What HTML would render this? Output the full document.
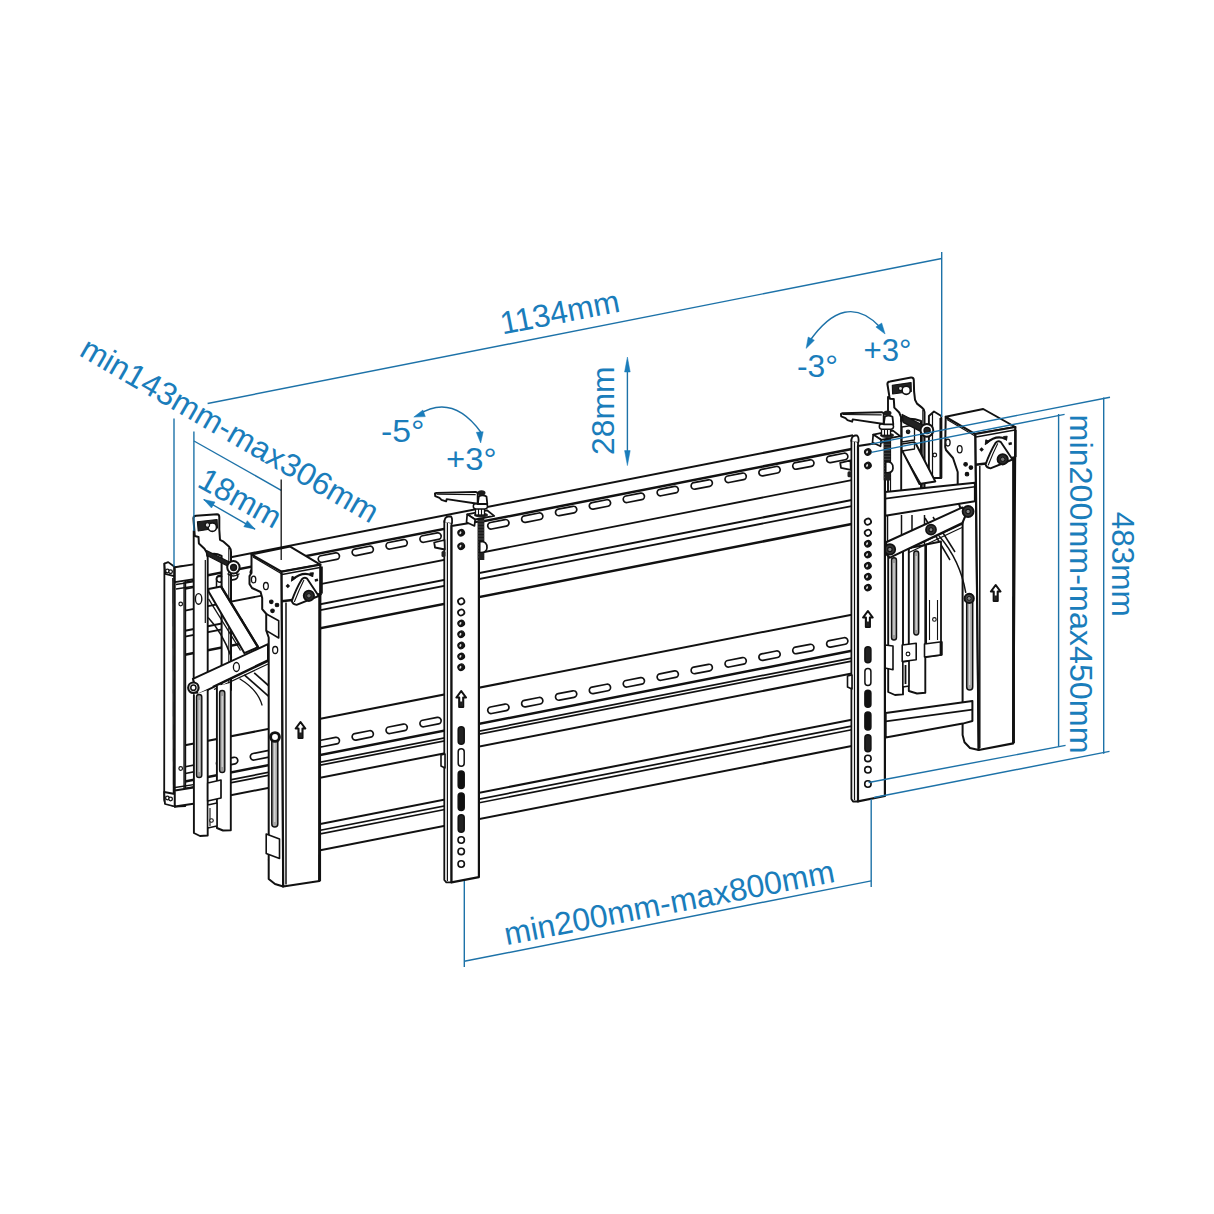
<!DOCTYPE html>
<html><head><meta charset="utf-8"><style>
html,body{margin:0;padding:0;background:#fff;}
svg{display:block;}
text{font-family:"Liberation Sans",sans-serif;}
</style></head><body>
<svg width="1214" height="1214" viewBox="0 0 1214 1214">
<rect width="1214" height="1214" fill="#fff"/>
<line x1="222" y1="559" x2="853" y2="435.3" stroke="#111" stroke-width="2"/>
<line x1="185" y1="579.7" x2="853" y2="448.8" stroke="#111" stroke-width="2.5"/>
<rect x="182.5" y="580.8" width="21.5" height="6.6" rx="3.3" fill="#fff" stroke="#111" stroke-width="1.7" transform="rotate(-11.1 193.2 584.1)"/>
<rect x="216.4" y="574.2" width="21.5" height="6.6" rx="3.3" fill="#fff" stroke="#111" stroke-width="1.7" transform="rotate(-11.1 227.1 577.5)"/>
<rect x="250.2" y="567.5" width="21.5" height="6.6" rx="3.3" fill="#fff" stroke="#111" stroke-width="1.7" transform="rotate(-11.1 261 570.8)"/>
<rect x="284.2" y="560.9" width="21.5" height="6.6" rx="3.3" fill="#fff" stroke="#111" stroke-width="1.7" transform="rotate(-11.1 294.9 564.2)"/>
<rect x="318.1" y="554.3" width="21.5" height="6.6" rx="3.3" fill="#fff" stroke="#111" stroke-width="1.7" transform="rotate(-11.1 328.8 557.6)"/>
<rect x="352" y="547.6" width="21.5" height="6.6" rx="3.3" fill="#fff" stroke="#111" stroke-width="1.7" transform="rotate(-11.1 362.7 550.9)"/>
<rect x="385.9" y="541" width="21.5" height="6.6" rx="3.3" fill="#fff" stroke="#111" stroke-width="1.7" transform="rotate(-11.1 396.6 544.3)"/>
<rect x="419.8" y="534.3" width="21.5" height="6.6" rx="3.3" fill="#fff" stroke="#111" stroke-width="1.7" transform="rotate(-11.1 430.5 537.6)"/>
<rect x="453.7" y="527.7" width="21.5" height="6.6" rx="3.3" fill="#fff" stroke="#111" stroke-width="1.7" transform="rotate(-11.1 464.4 531)"/>
<rect x="487.6" y="521" width="21.5" height="6.6" rx="3.3" fill="#fff" stroke="#111" stroke-width="1.7" transform="rotate(-11.1 498.3 524.3)"/>
<rect x="521.5" y="514.4" width="21.5" height="6.6" rx="3.3" fill="#fff" stroke="#111" stroke-width="1.7" transform="rotate(-11.1 532.2 517.7)"/>
<rect x="555.4" y="507.7" width="21.5" height="6.6" rx="3.3" fill="#fff" stroke="#111" stroke-width="1.7" transform="rotate(-11.1 566.1 511)"/>
<rect x="589.2" y="501.1" width="21.5" height="6.6" rx="3.3" fill="#fff" stroke="#111" stroke-width="1.7" transform="rotate(-11.1 600 504.4)"/>
<rect x="623.1" y="494.5" width="21.5" height="6.6" rx="3.3" fill="#fff" stroke="#111" stroke-width="1.7" transform="rotate(-11.1 633.9 497.8)"/>
<rect x="657" y="487.8" width="21.5" height="6.6" rx="3.3" fill="#fff" stroke="#111" stroke-width="1.7" transform="rotate(-11.1 667.8 491.1)"/>
<rect x="691" y="481.2" width="21.5" height="6.6" rx="3.3" fill="#fff" stroke="#111" stroke-width="1.7" transform="rotate(-11.1 701.7 484.5)"/>
<rect x="724.9" y="474.5" width="21.5" height="6.6" rx="3.3" fill="#fff" stroke="#111" stroke-width="1.7" transform="rotate(-11.1 735.6 477.8)"/>
<rect x="758.8" y="467.9" width="21.5" height="6.6" rx="3.3" fill="#fff" stroke="#111" stroke-width="1.7" transform="rotate(-11.1 769.5 471.2)"/>
<rect x="792.6" y="461.2" width="21.5" height="6.6" rx="3.3" fill="#fff" stroke="#111" stroke-width="1.7" transform="rotate(-11.1 803.4 464.5)"/>
<rect x="826.5" y="454.6" width="21.5" height="6.6" rx="3.3" fill="#fff" stroke="#111" stroke-width="1.7" transform="rotate(-11.1 837.3 457.9)"/>
<line x1="185" y1="610.7" x2="853" y2="479.8" stroke="#111" stroke-width="1.8"/>
<line x1="185" y1="630.7" x2="853" y2="499.8" stroke="#111" stroke-width="2"/>
<line x1="185" y1="636.7" x2="853" y2="505.8" stroke="#111" stroke-width="1.8"/>
<line x1="185" y1="654.7" x2="853" y2="523.8" stroke="#111" stroke-width="2.5"/>
<line x1="185" y1="745.3" x2="853" y2="614.4" stroke="#111" stroke-width="2"/>
<rect x="182.5" y="765.3" width="21.5" height="6.6" rx="3.3" fill="#fff" stroke="#111" stroke-width="1.7" transform="rotate(-11.1 193.2 768.6)"/>
<rect x="216.4" y="758.7" width="21.5" height="6.6" rx="3.3" fill="#fff" stroke="#111" stroke-width="1.7" transform="rotate(-11.1 227.1 762)"/>
<rect x="250.2" y="752" width="21.5" height="6.6" rx="3.3" fill="#fff" stroke="#111" stroke-width="1.7" transform="rotate(-11.1 261 755.3)"/>
<rect x="284.2" y="745.4" width="21.5" height="6.6" rx="3.3" fill="#fff" stroke="#111" stroke-width="1.7" transform="rotate(-11.1 294.9 748.7)"/>
<rect x="318.1" y="738.8" width="21.5" height="6.6" rx="3.3" fill="#fff" stroke="#111" stroke-width="1.7" transform="rotate(-11.1 328.8 742.1)"/>
<rect x="352" y="732.1" width="21.5" height="6.6" rx="3.3" fill="#fff" stroke="#111" stroke-width="1.7" transform="rotate(-11.1 362.7 735.4)"/>
<rect x="385.9" y="725.5" width="21.5" height="6.6" rx="3.3" fill="#fff" stroke="#111" stroke-width="1.7" transform="rotate(-11.1 396.6 728.8)"/>
<rect x="419.8" y="718.8" width="21.5" height="6.6" rx="3.3" fill="#fff" stroke="#111" stroke-width="1.7" transform="rotate(-11.1 430.5 722.1)"/>
<rect x="453.7" y="712.2" width="21.5" height="6.6" rx="3.3" fill="#fff" stroke="#111" stroke-width="1.7" transform="rotate(-11.1 464.4 715.5)"/>
<rect x="487.6" y="705.5" width="21.5" height="6.6" rx="3.3" fill="#fff" stroke="#111" stroke-width="1.7" transform="rotate(-11.1 498.3 708.8)"/>
<rect x="521.5" y="698.9" width="21.5" height="6.6" rx="3.3" fill="#fff" stroke="#111" stroke-width="1.7" transform="rotate(-11.1 532.2 702.2)"/>
<rect x="555.4" y="692.2" width="21.5" height="6.6" rx="3.3" fill="#fff" stroke="#111" stroke-width="1.7" transform="rotate(-11.1 566.1 695.5)"/>
<rect x="589.2" y="685.6" width="21.5" height="6.6" rx="3.3" fill="#fff" stroke="#111" stroke-width="1.7" transform="rotate(-11.1 600 688.9)"/>
<rect x="623.1" y="679" width="21.5" height="6.6" rx="3.3" fill="#fff" stroke="#111" stroke-width="1.7" transform="rotate(-11.1 633.9 682.3)"/>
<rect x="657" y="672.3" width="21.5" height="6.6" rx="3.3" fill="#fff" stroke="#111" stroke-width="1.7" transform="rotate(-11.1 667.8 675.6)"/>
<rect x="691" y="665.7" width="21.5" height="6.6" rx="3.3" fill="#fff" stroke="#111" stroke-width="1.7" transform="rotate(-11.1 701.7 669)"/>
<rect x="724.9" y="659" width="21.5" height="6.6" rx="3.3" fill="#fff" stroke="#111" stroke-width="1.7" transform="rotate(-11.1 735.6 662.3)"/>
<rect x="758.8" y="652.4" width="21.5" height="6.6" rx="3.3" fill="#fff" stroke="#111" stroke-width="1.7" transform="rotate(-11.1 769.5 655.7)"/>
<rect x="792.6" y="645.7" width="21.5" height="6.6" rx="3.3" fill="#fff" stroke="#111" stroke-width="1.7" transform="rotate(-11.1 803.4 649)"/>
<rect x="826.5" y="639.1" width="21.5" height="6.6" rx="3.3" fill="#fff" stroke="#111" stroke-width="1.7" transform="rotate(-11.1 837.3 642.4)"/>
<line x1="185" y1="781.5" x2="853" y2="650.6" stroke="#111" stroke-width="2.5"/>
<line x1="185" y1="788.7" x2="853" y2="657.8" stroke="#111" stroke-width="1.7"/>
<line x1="185" y1="791.7" x2="853" y2="660.8" stroke="#111" stroke-width="1.7"/>
<line x1="185" y1="804.2" x2="853" y2="673.3" stroke="#111" stroke-width="2"/>
<line x1="268" y1="834.2" x2="853" y2="719.5" stroke="#111" stroke-width="2"/>
<line x1="268" y1="840.5" x2="853" y2="725.8" stroke="#111" stroke-width="1.7"/>
<line x1="268" y1="844.2" x2="853" y2="729.5" stroke="#111" stroke-width="1.7"/>
<line x1="268" y1="860.5" x2="853" y2="745.8" stroke="#111" stroke-width="2"/>
<polygon points="233.5,603.2 262,597.6 262.2,609.2 267.2,612.5 268.5,644.3 258.1,647.2" fill="#fff" stroke="#fff" stroke-width="0.1" stroke-linejoin="round" />
<polygon points="164.4,563.6 174.1,566.5 174.8,806.5 165,803 164.2,800" fill="#fff" stroke="#111" stroke-width="1.8" stroke-linejoin="round" />
<line x1="172.8" y1="578" x2="173.4" y2="795" stroke="#111" stroke-width="1.3"/>
<polygon points="174.8,567.3 185.3,566 185.3,806 174.8,806.5" fill="#fff" stroke="#111" stroke-width="1.8" stroke-linejoin="round" />
<line x1="184" y1="582" x2="184" y2="790" stroke="#111" stroke-width="1.3"/>
<circle cx="180.7" cy="604" r="1.8" fill="#fff" stroke="#111" stroke-width="1.2"/>
<circle cx="180.7" cy="768.5" r="1.8" fill="#fff" stroke="#111" stroke-width="1.2"/>
<polygon points="164.4,563.6 168.2,562.1 174.1,566.5 174.1,576.2 165.2,573.9" fill="#fff" stroke="#111" stroke-width="1.8" stroke-linejoin="round" />
<circle cx="167.4" cy="571" r="1.8" fill="#fff" stroke="#111" stroke-width="1.3"/>
<circle cx="170.6" cy="571.7" r="1.8" fill="#fff" stroke="#111" stroke-width="1.3"/>
<polygon points="174.8,567.3 198.5,563.6 198.9,578.4 174.8,582.1" fill="#fff" stroke="#111" stroke-width="1.9" stroke-linejoin="round" />
<line x1="176" y1="584.5" x2="199" y2="580.8" stroke="#111" stroke-width="1.3"/>
<line x1="176" y1="589" x2="199" y2="585.5" stroke="#111" stroke-width="1.3"/>
<polygon points="164.2,792 174.8,794 174.8,806.5 165,804" fill="#fff" stroke="#111" stroke-width="1.8" stroke-linejoin="round" />
<circle cx="167.4" cy="798" r="1.8" fill="#fff" stroke="#111" stroke-width="1.3"/>
<circle cx="170.6" cy="799" r="1.8" fill="#fff" stroke="#111" stroke-width="1.3"/>
<polygon points="174.8,790.5 198.5,786.8 198.5,803 174.8,806.5" fill="#fff" stroke="#111" stroke-width="1.9" stroke-linejoin="round" />
<line x1="175" y1="787.5" x2="198.5" y2="783.8" stroke="#111" stroke-width="1.3"/>
<polygon points="193.7,531 207.7,533 207.7,690 193.7,690" fill="#fff" stroke="#111" stroke-width="1.9" stroke-linejoin="round" />
<line x1="205.3" y1="560" x2="205.3" y2="623" stroke="#111" stroke-width="1.2"/>
<ellipse cx="198.6" cy="598.9" rx="3.2" ry="5.3" fill="#fff" stroke="#111" stroke-width="1.4" transform="rotate(0 198.6 598.9)"/>
<path d="M 194.8,536.1 L 193.4,518.3 Q 193.5,516 196,515.8 L 217,514.3 Q 219.3,514.5 219.3,517 L 219.3,529.5 L 220,539.8 L 223,541.3 L 228.9,546.5 Q 231,549 231,552 L 231,690 L 221.6,690 L 221.6,556 Q 216,553 212,554 L 207.4,556 L 206.7,552.4 L 204.5,548.7 L 198.9,543.5 L 198.5,536.9 Z" fill="#fff" stroke="#111" stroke-width="2" stroke-linejoin="round" stroke-linecap="round" />
<line x1="228.8" y1="548" x2="228.8" y2="690" stroke="#111" stroke-width="1.1"/>
<polygon points="197.4,521.7 217.1,519.5 217.5,528 198.2,531" fill="#222" stroke="#111" stroke-width="1.1" stroke-linejoin="round" />
<circle cx="212.3" cy="527.2" r="4.2" fill="#fff" stroke="#111" stroke-width="1.6"/>
<circle cx="207.4" cy="525" r="2.2" fill="#ddd" stroke="#111" stroke-width="1.1"/>
<path d="M 216.5,587 L 216.5,579 Q 216.5,576.5 219,576.5 L 221.6,576.5" fill="none" stroke="#111" stroke-width="1.5" stroke-linejoin="round" stroke-linecap="round" />
<polygon points="208.5,589 221,586.4 258.1,647.2 244.3,653.1 208.5,591.6" fill="#fff" stroke="#111" stroke-width="2" stroke-linejoin="round" />
<line x1="221" y1="586.4" x2="258.1" y2="647.2" stroke="#111" stroke-width="2.4"/>
<line x1="208.5" y1="598.9" x2="240.5" y2="650.5" stroke="#111" stroke-width="1.3"/>
<path d="M 208.5,618 Q 222,632 231.4,657" fill="none" stroke="#111" stroke-width="1.6" stroke-linejoin="round" stroke-linecap="round" />
<line x1="244.3" y1="674.9" x2="269" y2="696.6" stroke="#111" stroke-width="1.7"/>
<line x1="254.2" y1="672.9" x2="269" y2="686" stroke="#111" stroke-width="1.7"/>
<path d="M 240,679 Q 258,690 262,705" fill="none" stroke="#111" stroke-width="1.3" stroke-linejoin="round" stroke-linecap="round" />
<polygon points="206.5,550.5 229.5,562 228.5,566.5 207,555.5" fill="#222" stroke="#111" stroke-width="1.1" stroke-linejoin="round" />
<circle cx="233.4" cy="567.3" r="6.2" fill="#fff" stroke="#111" stroke-width="2"/>
<circle cx="233.6" cy="567.5" r="3" fill="#222" stroke="#111" stroke-width="1.3"/>
<path d="M 228,574 Q 233,578 239,574" fill="none" stroke="#111" stroke-width="1.5" stroke-linejoin="round" stroke-linecap="round" />
<polygon points="192.9,678.8 268,644.2 268,661 197.8,694.6" fill="#fff" stroke="#111" stroke-width="2" stroke-linejoin="round" />
<line x1="212.7" y1="686.7" x2="268" y2="660" stroke="#111" stroke-width="1.6"/>
<line x1="214" y1="689.5" x2="268" y2="664" stroke="#111" stroke-width="1.3"/>
<ellipse cx="236.4" cy="667" rx="3" ry="4.5" fill="#fff" stroke="#111" stroke-width="1.3" transform="rotate(0 236.4 667)"/>
<circle cx="193.4" cy="687.7" r="5.2" fill="#fff" stroke="#111" stroke-width="2.2"/>
<circle cx="193.4" cy="687.7" r="2.6" fill="#fff" stroke="#111" stroke-width="1.5"/>
<path d="M 193.9,695 L 193.9,833 L 200,836 L 207.7,835.5 L 207.7,690" fill="#fff" stroke="#111" stroke-width="1.9" stroke-linejoin="round" stroke-linecap="round" />
<rect x="196.5" y="694.5" width="5.3" height="83" rx="2.6" fill="#9a9a9a" stroke="#111" stroke-width="1.4"/>
<line x1="199.2" y1="700" x2="199.2" y2="772" stroke="#eee" stroke-width="0.9"/>
<path d="M 216.9,686 L 216.9,828 L 223,830.5 L 230.8,830.2 L 230.8,683" fill="#fff" stroke="#111" stroke-width="1.9" stroke-linejoin="round" stroke-linecap="round" />
<rect x="219.6" y="690.5" width="5.2" height="82" rx="2.6" fill="#9a9a9a" stroke="#111" stroke-width="1.4"/>
<line x1="222.2" y1="696" x2="222.2" y2="767" stroke="#eee" stroke-width="0.9"/>
<polygon points="207.7,783 221,780 221,798 207.7,801" fill="#fff" stroke="#111" stroke-width="1.7" stroke-linejoin="round" />
<polygon points="207.7,805 216.9,803 216.9,826 207.7,828" fill="#fff" stroke="#111" stroke-width="1.3" stroke-linejoin="round" />
<line x1="210" y1="808" x2="210" y2="826" stroke="#111" stroke-width="1.1"/>
<circle cx="211.5" cy="820.5" r="1.8" fill="#fff" stroke="#111" stroke-width="1.1"/>
<polygon points="251.5,554.4 281.6,571.7 283.2,886.5 275,884 268.7,879 268.7,637.5 266.4,631 266.4,614 262.2,609.2 262.2,598 260.6,592 252,588 249.5,584 249.5,576 251.5,573" fill="#fff" stroke="#111" stroke-width="2" stroke-linejoin="round" />
<polygon points="251.5,554.4 290.2,546.6 320.3,564.7 281.6,571.7" fill="#fff" stroke="#111" stroke-width="2" stroke-linejoin="round" />
<line x1="253" y1="557" x2="282" y2="574" stroke="#111" stroke-width="1.3"/>
<polygon points="281.6,571.7 320.3,564.7 319.5,881 283.2,886.5" fill="#fff" stroke="#111" stroke-width="2.2" stroke-linejoin="round" />
<line x1="282" y1="574.5" x2="320" y2="567.5" stroke="#111" stroke-width="1.3"/>
<line x1="319.7" y1="595" x2="319.6" y2="881" stroke="#111" stroke-width="2.9"/>
<ellipse cx="253.6" cy="579.5" rx="2.2" ry="3.4" fill="#fff" stroke="#111" stroke-width="1.3" transform="rotate(0 253.6 579.5)"/>
<ellipse cx="265.9" cy="586.1" rx="2.4" ry="3.6" fill="#fff" stroke="#111" stroke-width="1.3" transform="rotate(0 265.9 586.1)"/>
<circle cx="271.3" cy="601.8" r="1.8" fill="#111" stroke="#111" stroke-width="1.1"/>
<circle cx="277" cy="605" r="1.8" fill="#111" stroke="#111" stroke-width="1.1"/>
<circle cx="272.5" cy="610.8" r="1.8" fill="#111" stroke="#111" stroke-width="1.1"/>
<polygon points="266.4,614 278.7,620.7 278.7,638 266.4,630.6" fill="#fff" stroke="#111" stroke-width="1.6" stroke-linejoin="round" />
<ellipse cx="275.2" cy="650" rx="2.5" ry="3.5" fill="#fff" stroke="#111" stroke-width="1.3" transform="rotate(0 275.2 650)"/>
<rect x="271.8" y="736" width="6" height="91" rx="3" fill="#a8a8a8" stroke="#111" stroke-width="1.5"/>
<line x1="274.8" y1="742" x2="274.8" y2="822" stroke="#eee" stroke-width="0.9"/>
<circle cx="275" cy="737" r="4.4" fill="#fff" stroke="#111" stroke-width="2.9"/>
<polygon points="266.2,834 279.5,839 279.5,858.4 266.2,853.4" fill="#fff" stroke="#111" stroke-width="1.6" stroke-linejoin="round" />
<polygon points="300.5,722 305.3,728.5 302.5,728.5 302.5,738 298.5,738 298.5,728.5 295.7,728.5" fill="#fff" stroke="#111" stroke-width="2.1" stroke-linejoin="round" />
<rect x="299" y="732.5" width="3" height="5" fill="#222"/>
<g transform="translate(-693.8 136.5)">
<line x1="975.4" y1="464.8" x2="986" y2="463.4" stroke="#111" stroke-width="2.5"/>
<line x1="1011" y1="458.2" x2="1015.5" y2="457.3" stroke="#111" stroke-width="2.5"/>
<line x1="1015.5" y1="430" x2="1015.5" y2="457.1" stroke="#111" stroke-width="2.2"/>
<line x1="979.8" y1="466" x2="979.8" y2="748" stroke="#111" stroke-width="1.5"/>
<path d="M 985.5,464.6 Q 990,452 995.5,443 Q 998,440.2 1000.8,442 L 1012.5,459.5 L 990.4,468.4 Q 986.5,468 985.5,464.6 Z" fill="#fff" stroke="#111" stroke-width="1.9" stroke-linejoin="round" stroke-linecap="round" />
<path d="M 988.3,465 Q 993,453 997.6,443.8" fill="none" stroke="#111" stroke-width="1.1" stroke-linejoin="round" stroke-linecap="round" />
<circle cx="1002.7" cy="459.3" r="5.2" fill="#2a2a2a" stroke="#111" stroke-width="1.8"/>
<circle cx="1002.7" cy="459.3" r="2.2" fill="#777" stroke="#111" stroke-width="1"/>
<path d="M 986.5,443 Q 996.5,434.5 1005.5,439" fill="none" stroke="#111" stroke-width="2.2" stroke-linejoin="round" stroke-linecap="round" />
<polygon points="985.2,444.8 985.8,439.8 989.5,441.3" fill="#111" stroke="#111" stroke-width="0.9" stroke-linejoin="round" />
<polygon points="1006.5,440.5 1003.5,436.5 1007.2,436.2" fill="#111" stroke="#111" stroke-width="0.9" stroke-linejoin="round" />
<rect x="980" y="447.9" width="3.2" height="3.2" fill="#111" transform="rotate(45 981.6 449.5)"/>
<line x1="1008.6" y1="444" x2="1011.8" y2="443.3" stroke="#111" stroke-width="2.5"/>
</g>
<polygon points="945.7,416.8 975.4,434 978.7,750 970,748 964.5,742.3 962.6,735 962.6,515 957.7,500 957.7,472 953,458 946,450 945.2,447" fill="#fff" stroke="#111" stroke-width="2" stroke-linejoin="round" />
<ellipse cx="947.9" cy="442.6" rx="2.2" ry="3.4" fill="#fff" stroke="#111" stroke-width="1.3" transform="rotate(0 947.9 442.6)"/>
<ellipse cx="959.7" cy="449.2" rx="2.4" ry="3.6" fill="#fff" stroke="#111" stroke-width="1.3" transform="rotate(0 959.7 449.2)"/>
<circle cx="965.6" cy="464.3" r="1.8" fill="#111" stroke="#111" stroke-width="1.1"/>
<circle cx="970.9" cy="467.6" r="1.8" fill="#111" stroke="#111" stroke-width="1.1"/>
<circle cx="967" cy="474.2" r="1.8" fill="#111" stroke="#111" stroke-width="1.1"/>
<rect x="966.7" y="594" width="6" height="96" rx="3" fill="#a8a8a8" stroke="#111" stroke-width="1.5"/>
<line x1="969.7" y1="600" x2="969.7" y2="685" stroke="#eee" stroke-width="0.9"/>
<circle cx="969.2" cy="598.4" r="4.6" fill="#444" stroke="#111" stroke-width="2"/>
<circle cx="969.2" cy="598.4" r="2" fill="#888" stroke="#111" stroke-width="0.9"/>
<polygon points="928.9,416 934,411.5 941.3,416 941.3,478 928.9,478" fill="#fff" stroke="#111" stroke-width="1.9" stroke-linejoin="round" />
<line x1="932.5" y1="414" x2="932.5" y2="478" stroke="#111" stroke-width="1.2"/>
<line x1="940.8" y1="418" x2="940.8" y2="478" stroke="#111" stroke-width="2.7"/>
<circle cx="934.8" cy="455" r="1.8" fill="#fff" stroke="#111" stroke-width="1.2"/>
<polygon points="888,397 901.2,399 901.2,492 888,492" fill="#fff" stroke="#111" stroke-width="1.9" stroke-linejoin="round" />
<line x1="890.5" y1="420" x2="890.5" y2="492" stroke="#111" stroke-width="1.2"/>
<path d="M 889.4,396.7 L 887.4,384 Q 887.5,381.8 890,381.6 L 911,377.6 Q 913.5,377.4 913.8,380 L 914.1,391.7 L 915,399.7 L 917,403.6 L 922,407.6 Q 924.5,409.5 924.5,412 L 924.5,492 L 921,492 L 921,421 Q 913,418 906,419 L 901.2,421 L 901.2,417.4 L 899.2,412.5 L 894.3,407.6 L 893.8,399 L 889.9,398.7 Z" fill="#fff" stroke="#111" stroke-width="2" stroke-linejoin="round" stroke-linecap="round" />
<line x1="922.8" y1="410" x2="922.8" y2="492" stroke="#111" stroke-width="1.1"/>
<polygon points="892.3,385.2 911.1,382.6 911.3,391.5 892.6,394" fill="#222" stroke="#111" stroke-width="1.1" stroke-linejoin="round" />
<circle cx="906.2" cy="390.3" r="4.1" fill="#fff" stroke="#111" stroke-width="1.6"/>
<circle cx="900.5" cy="388.5" r="2" fill="#ddd" stroke="#111" stroke-width="1.1"/>
<polygon points="902.4,451.1 915.6,443.2 935.3,481.4 919.5,484" fill="#fff" stroke="#111" stroke-width="2" stroke-linejoin="round" />
<line x1="906" y1="458" x2="921" y2="484" stroke="#111" stroke-width="1.2"/>
<polygon points="902,427 914.5,425 914.5,440 902,442" fill="#fff" stroke="#111" stroke-width="1.3" stroke-linejoin="round" />
<circle cx="908.1" cy="431.8" r="1.8" fill="#222" stroke="#111" stroke-width="1.1"/>
<polygon points="902,444 914.5,442 914.5,449 902,451" fill="#fff" stroke="#111" stroke-width="1.3" stroke-linejoin="round" />
<polygon points="902.2,414.5 923.5,425.5 922.5,432.3 903.2,422.4" fill="#222" stroke="#111" stroke-width="1.3" stroke-linejoin="round" />
<circle cx="926.9" cy="430.3" r="6.4" fill="#fff" stroke="#111" stroke-width="2"/>
<circle cx="927.1" cy="430.5" r="3.1" fill="#222" stroke="#111" stroke-width="1.3"/>
<polygon points="885.3,492 974.9,482.8 974.9,501.2 885.3,515.7" fill="#fff" stroke="#111" stroke-width="2" stroke-linejoin="round" />
<line x1="885.3" y1="498.6" x2="974.9" y2="486.7" stroke="#111" stroke-width="1.6"/>
<line x1="887.5" y1="515" x2="887.5" y2="545" stroke="#111" stroke-width="1.5"/>
<line x1="901.5" y1="515" x2="901.5" y2="545" stroke="#111" stroke-width="1.5"/>
<line x1="912" y1="515" x2="912" y2="545" stroke="#111" stroke-width="1.5"/>
<line x1="924.5" y1="515" x2="924.5" y2="545" stroke="#111" stroke-width="1.5"/>
<line x1="925" y1="518" x2="950" y2="560" stroke="#111" stroke-width="1.5"/>
<line x1="933" y1="517" x2="955" y2="552" stroke="#111" stroke-width="1.5"/>
<polygon points="888.2,554 903,550 903,694.4 895,695 888.2,692" fill="#fff" stroke="#111" stroke-width="1.9" stroke-linejoin="round" />
<rect x="891.5" y="557.7" width="5" height="82.3" rx="2.5" fill="#9a9a9a" stroke="#111" stroke-width="1.4"/>
<line x1="894" y1="563" x2="894" y2="635" stroke="#eee" stroke-width="0.9"/>
<polygon points="908.8,548 925.3,545 925.3,692.7 917,693.5 908.8,691" fill="#fff" stroke="#111" stroke-width="1.9" stroke-linejoin="round" />
<rect x="913.8" y="551" width="4.9" height="84" rx="2.4" fill="#9a9a9a" stroke="#111" stroke-width="1.4"/>
<line x1="916.2" y1="556" x2="916.2" y2="630" stroke="#eee" stroke-width="0.9"/>
<polygon points="926.1,544.5 941,541.5 941,654.9 926.1,657" fill="#fff" stroke="#111" stroke-width="1.8" stroke-linejoin="round" />
<line x1="929.5" y1="600" x2="929.5" y2="640" stroke="#111" stroke-width="1.1"/>
<line x1="937.5" y1="600" x2="937.5" y2="640" stroke="#111" stroke-width="1.1"/>
<circle cx="934.4" cy="619.4" r="1.8" fill="#fff" stroke="#111" stroke-width="1.1"/>
<polygon points="924.5,644 941.8,641.7 941.8,654.9 924.5,657" fill="#fff" stroke="#111" stroke-width="1.6" stroke-linejoin="round" />
<line x1="941" y1="642" x2="941" y2="655" stroke="#111" stroke-width="2.7"/>
<polygon points="902.2,645 916.2,643.3 916.2,659.8 902.2,661.5" fill="#fff" stroke="#111" stroke-width="1.6" stroke-linejoin="round" />
<circle cx="908" cy="654" r="1.9" fill="#fff" stroke="#111" stroke-width="1.1"/>
<polygon points="885,645 893,646 893,669.7 885,668" fill="#fff" stroke="#111" stroke-width="1.6" stroke-linejoin="round" />
<polygon points="903,662 908.8,661 908.8,686 903,687" fill="#fff" stroke="#111" stroke-width="1.3" stroke-linejoin="round" />
<line x1="905.5" y1="665" x2="905.5" y2="684" stroke="#111" stroke-width="1.8"/>
<path d="M 939.3,536.2 Q 960,560 965.7,592.3" fill="none" stroke="#111" stroke-width="1.5" stroke-linejoin="round" stroke-linecap="round" />
<polygon points="886.6,542 962.4,507.4 967,512 962.4,523 889.9,557.7 884,552" fill="#fff" stroke="#111" stroke-width="2" stroke-linejoin="round" />
<line x1="908" y1="549.4" x2="962" y2="524" stroke="#111" stroke-width="1.5"/>
<line x1="909" y1="552.5" x2="962" y2="527.5" stroke="#111" stroke-width="1.2"/>
<circle cx="889.9" cy="549.4" r="5.3" fill="#333" stroke="#111" stroke-width="1.8"/>
<circle cx="889.9" cy="549.4" r="2.2" fill="#888" stroke="#111" stroke-width="1.1"/>
<circle cx="931" cy="529.7" r="5" fill="#333" stroke="#111" stroke-width="1.8"/>
<circle cx="931" cy="529.7" r="2" fill="#888" stroke="#111" stroke-width="1.1"/>
<circle cx="968.1" cy="511.5" r="5.5" fill="#333" stroke="#111" stroke-width="1.8"/>
<circle cx="968.1" cy="511.5" r="2.2" fill="#888" stroke="#111" stroke-width="1.1"/>
<polygon points="885.7,712.9 972.4,701 972.4,721 962.8,723.6 885.7,737.5" fill="#fff" stroke="#111" stroke-width="2" stroke-linejoin="round" />
<line x1="885.7" y1="721.4" x2="972.4" y2="709.6" stroke="#111" stroke-width="1.6"/>
<polygon points="945.7,416.8 983.2,409 1015.3,427 975.4,434" fill="#fff" stroke="#111" stroke-width="2" stroke-linejoin="round" />
<line x1="947" y1="419.5" x2="976" y2="436.5" stroke="#111" stroke-width="1.3"/>
<polygon points="975.4,434 1015.3,427 1013.3,743.3 978.7,750" fill="#fff" stroke="#111" stroke-width="2.2" stroke-linejoin="round" />
<line x1="976" y1="437" x2="1015" y2="430" stroke="#111" stroke-width="1.3"/>
<line x1="1013.6" y1="457" x2="1013.5" y2="743" stroke="#111" stroke-width="2.9"/>
<g transform="translate(0 0)">
<line x1="975.4" y1="464.8" x2="986" y2="463.4" stroke="#111" stroke-width="2.5"/>
<line x1="1011" y1="458.2" x2="1015.5" y2="457.3" stroke="#111" stroke-width="2.5"/>
<line x1="1015.5" y1="430" x2="1015.5" y2="457.1" stroke="#111" stroke-width="2.2"/>
<line x1="979.8" y1="466" x2="979.8" y2="748" stroke="#111" stroke-width="1.5"/>
<path d="M 985.5,464.6 Q 990,452 995.5,443 Q 998,440.2 1000.8,442 L 1012.5,459.5 L 990.4,468.4 Q 986.5,468 985.5,464.6 Z" fill="#fff" stroke="#111" stroke-width="1.9" stroke-linejoin="round" stroke-linecap="round" />
<path d="M 988.3,465 Q 993,453 997.6,443.8" fill="none" stroke="#111" stroke-width="1.1" stroke-linejoin="round" stroke-linecap="round" />
<circle cx="1002.7" cy="459.3" r="5.2" fill="#2a2a2a" stroke="#111" stroke-width="1.8"/>
<circle cx="1002.7" cy="459.3" r="2.2" fill="#777" stroke="#111" stroke-width="1"/>
<path d="M 986.5,443 Q 996.5,434.5 1005.5,439" fill="none" stroke="#111" stroke-width="2.2" stroke-linejoin="round" stroke-linecap="round" />
<polygon points="985.2,444.8 985.8,439.8 989.5,441.3" fill="#111" stroke="#111" stroke-width="0.9" stroke-linejoin="round" />
<polygon points="1006.5,440.5 1003.5,436.5 1007.2,436.2" fill="#111" stroke="#111" stroke-width="0.9" stroke-linejoin="round" />
<rect x="980" y="447.9" width="3.2" height="3.2" fill="#111" transform="rotate(45 981.6 449.5)"/>
<line x1="1008.6" y1="444" x2="1011.8" y2="443.3" stroke="#111" stroke-width="2.5"/>
</g>
<polygon points="995.7,585 1000.5,591.5 997.7,591.5 997.7,601 993.7,601 993.7,591.5 990.9,591.5" fill="#fff" stroke="#111" stroke-width="2.1" stroke-linejoin="round" />
<rect x="994.2" y="595.5" width="3" height="5" fill="#222"/>
<polygon points="444.3,521 451.5,523 451.5,882.3 446.3,882.3 444.3,880" fill="#fff" stroke="#111" stroke-width="1.8" stroke-linejoin="round" />
<line x1="447.4" y1="523" x2="447.4" y2="881" stroke="#111" stroke-width="1.2"/>
<polygon points="451.5,526 478.9,521.5 478.9,877.1 451.5,882.3" fill="#fff" stroke="#111" stroke-width="2.2" stroke-linejoin="round" />
<path d="M 444.5,522 Q 444.5,517 448,516.5 L 451,516.5 Q 452.5,518 452,523" fill="#fff" stroke="#111" stroke-width="1.8" stroke-linejoin="round" stroke-linecap="round" />
<ellipse cx="461.2" cy="532.8" rx="3.3" ry="3.1" fill="#151515" stroke="#111" stroke-width="1.2" transform="rotate(-30 461.2 532.8)"/>
<ellipse cx="460.4" cy="532.8" rx="0.9" ry="1.5" fill="#ddd" transform="rotate(25 460.4 532.8)"/>
<ellipse cx="461.2" cy="546.2" rx="3.3" ry="3.1" fill="#151515" stroke="#111" stroke-width="1.2" transform="rotate(-30 461.2 546.2)"/>
<ellipse cx="460.4" cy="546.2" rx="0.9" ry="1.5" fill="#ddd" transform="rotate(25 460.4 546.2)"/>
<ellipse cx="461.2" cy="601.4" rx="3.2" ry="3" fill="#fff" stroke="#111" stroke-width="1.7" transform="rotate(-30 461.2 601.4)"/>
<ellipse cx="461.2" cy="612.5" rx="3.2" ry="3" fill="#fff" stroke="#111" stroke-width="1.7" transform="rotate(-30 461.2 612.5)"/>
<ellipse cx="461.2" cy="623.4" rx="3.3" ry="3.1" fill="#151515" stroke="#111" stroke-width="1.2" transform="rotate(-30 461.2 623.4)"/>
<ellipse cx="460.4" cy="623.4" rx="0.9" ry="1.5" fill="#ddd" transform="rotate(25 460.4 623.4)"/>
<ellipse cx="461.2" cy="634.3" rx="3.3" ry="3.1" fill="#151515" stroke="#111" stroke-width="1.2" transform="rotate(-30 461.2 634.3)"/>
<ellipse cx="460.4" cy="634.3" rx="0.9" ry="1.5" fill="#ddd" transform="rotate(25 460.4 634.3)"/>
<ellipse cx="461.2" cy="645.5" rx="3.3" ry="3.1" fill="#151515" stroke="#111" stroke-width="1.2" transform="rotate(-30 461.2 645.5)"/>
<ellipse cx="460.4" cy="645.5" rx="0.9" ry="1.5" fill="#ddd" transform="rotate(25 460.4 645.5)"/>
<ellipse cx="461.2" cy="656.4" rx="3.3" ry="3.1" fill="#151515" stroke="#111" stroke-width="1.2" transform="rotate(-30 461.2 656.4)"/>
<ellipse cx="460.4" cy="656.4" rx="0.9" ry="1.5" fill="#ddd" transform="rotate(25 460.4 656.4)"/>
<ellipse cx="461.2" cy="667.3" rx="3.3" ry="3.1" fill="#151515" stroke="#111" stroke-width="1.2" transform="rotate(-30 461.2 667.3)"/>
<ellipse cx="460.4" cy="667.3" rx="0.9" ry="1.5" fill="#ddd" transform="rotate(25 460.4 667.3)"/>
<polygon points="461.2,691 466,697.5 463.2,697.5 463.2,707 459.2,707 459.2,697.5 456.4,697.5" fill="#fff" stroke="#111" stroke-width="2.1" stroke-linejoin="round" />
<rect x="459.7" y="701.5" width="3" height="5" fill="#222"/>
<rect x="458.2" y="726.8" width="6" height="17.5" rx="3" fill="#222" stroke="#111" stroke-width="1.5"/>
<rect x="458.2" y="748.8" width="6" height="17.5" rx="3" fill="#fff" stroke="#111" stroke-width="1.5"/>
<rect x="458.2" y="771" width="6" height="17.5" rx="3" fill="#111" stroke="#111" stroke-width="1.5"/>
<rect x="458.2" y="793" width="6" height="17.6" rx="3" fill="#111" stroke="#111" stroke-width="1.5"/>
<rect x="458.2" y="814.7" width="6" height="17.5" rx="3" fill="#222" stroke="#111" stroke-width="1.5"/>
<circle cx="461.2" cy="840" r="3.2" fill="#fff" stroke="#111" stroke-width="1.6"/>
<circle cx="461.2" cy="851.4" r="3.2" fill="#fff" stroke="#111" stroke-width="1.6"/>
<circle cx="461.2" cy="864" r="3.2" fill="#fff" stroke="#111" stroke-width="1.6"/>
<polygon points="851.4,440 858,442 858,801.5 853,801.5 851.4,799" fill="#fff" stroke="#111" stroke-width="1.8" stroke-linejoin="round" />
<line x1="854.5" y1="442" x2="854.5" y2="800" stroke="#111" stroke-width="1.2"/>
<polygon points="858,446 884.9,441.8 884.9,796 858,801.3" fill="#fff" stroke="#111" stroke-width="2.2" stroke-linejoin="round" />
<path d="M 851.4,441 Q 851.4,436 855,435.5 L 857,435.5 Q 859,437 858.5,442" fill="#fff" stroke="#111" stroke-width="1.8" stroke-linejoin="round" stroke-linecap="round" />
<ellipse cx="867.9" cy="452" rx="3.3" ry="3.1" fill="#151515" stroke="#111" stroke-width="1.2" transform="rotate(-30 867.9 452)"/>
<ellipse cx="867.1" cy="452" rx="0.9" ry="1.5" fill="#ddd" transform="rotate(25 867.1 452)"/>
<ellipse cx="867.9" cy="465.5" rx="3.3" ry="3.1" fill="#151515" stroke="#111" stroke-width="1.2" transform="rotate(-30 867.9 465.5)"/>
<ellipse cx="867.1" cy="465.5" rx="0.9" ry="1.5" fill="#ddd" transform="rotate(25 867.1 465.5)"/>
<ellipse cx="867.9" cy="521.7" rx="3.2" ry="3" fill="#fff" stroke="#111" stroke-width="1.7" transform="rotate(-30 867.9 521.7)"/>
<ellipse cx="867.9" cy="532.8" rx="3.2" ry="3" fill="#fff" stroke="#111" stroke-width="1.7" transform="rotate(-30 867.9 532.8)"/>
<ellipse cx="867.9" cy="543.7" rx="3.3" ry="3.1" fill="#151515" stroke="#111" stroke-width="1.2" transform="rotate(-30 867.9 543.7)"/>
<ellipse cx="867.1" cy="543.7" rx="0.9" ry="1.5" fill="#ddd" transform="rotate(25 867.1 543.7)"/>
<ellipse cx="867.9" cy="554.6" rx="3.3" ry="3.1" fill="#151515" stroke="#111" stroke-width="1.2" transform="rotate(-30 867.9 554.6)"/>
<ellipse cx="867.1" cy="554.6" rx="0.9" ry="1.5" fill="#ddd" transform="rotate(25 867.1 554.6)"/>
<ellipse cx="867.9" cy="565.8" rx="3.3" ry="3.1" fill="#151515" stroke="#111" stroke-width="1.2" transform="rotate(-30 867.9 565.8)"/>
<ellipse cx="867.1" cy="565.8" rx="0.9" ry="1.5" fill="#ddd" transform="rotate(25 867.1 565.8)"/>
<ellipse cx="867.9" cy="576.7" rx="3.3" ry="3.1" fill="#151515" stroke="#111" stroke-width="1.2" transform="rotate(-30 867.9 576.7)"/>
<ellipse cx="867.1" cy="576.7" rx="0.9" ry="1.5" fill="#ddd" transform="rotate(25 867.1 576.7)"/>
<ellipse cx="867.9" cy="587.6" rx="3.3" ry="3.1" fill="#151515" stroke="#111" stroke-width="1.2" transform="rotate(-30 867.9 587.6)"/>
<ellipse cx="867.1" cy="587.6" rx="0.9" ry="1.5" fill="#ddd" transform="rotate(25 867.1 587.6)"/>
<polygon points="867.9,611 872.7,617.5 869.9,617.5 869.9,627 865.9,627 865.9,617.5 863.1,617.5" fill="#fff" stroke="#111" stroke-width="2.1" stroke-linejoin="round" />
<rect x="866.4" y="621.5" width="3" height="5" fill="#222"/>
<rect x="864.9" y="646.7" width="6" height="16.1" rx="3" fill="#222" stroke="#111" stroke-width="1.5"/>
<rect x="864.9" y="668.5" width="6" height="17" rx="3" fill="#fff" stroke="#111" stroke-width="1.5"/>
<rect x="864.9" y="690.3" width="6" height="17" rx="3" fill="#111" stroke="#111" stroke-width="1.5"/>
<rect x="864.9" y="712" width="6" height="18" rx="3" fill="#111" stroke="#111" stroke-width="1.5"/>
<rect x="864.9" y="734.8" width="6" height="17" rx="3" fill="#222" stroke="#111" stroke-width="1.5"/>
<circle cx="867.9" cy="758.4" r="3.2" fill="#fff" stroke="#111" stroke-width="1.6"/>
<circle cx="867.9" cy="769.8" r="3.2" fill="#fff" stroke="#111" stroke-width="1.6"/>
<circle cx="867.9" cy="784" r="3.2" fill="#fff" stroke="#111" stroke-width="1.6"/>
<g transform="translate(0 0)">
<polygon points="434.2,542.5 444.5,540 444.8,549.5 435,547.5" fill="#fff" stroke="#111" stroke-width="1.8" stroke-linejoin="round" />
<rect x="441.5" y="551" width="4" height="6" rx="1.5" fill="#222"/>
<rect x="477.7" y="518" width="6.6" height="42" fill="#1a1a1a"/>
<line x1="477.7" y1="521" x2="484.3" y2="521" stroke="#666" stroke-width="0.6"/>
<line x1="477.7" y1="524" x2="484.3" y2="524" stroke="#666" stroke-width="0.6"/>
<line x1="477.7" y1="527" x2="484.3" y2="527" stroke="#666" stroke-width="0.6"/>
<line x1="477.7" y1="530" x2="484.3" y2="530" stroke="#666" stroke-width="0.6"/>
<line x1="477.7" y1="533" x2="484.3" y2="533" stroke="#666" stroke-width="0.6"/>
<line x1="477.7" y1="536" x2="484.3" y2="536" stroke="#666" stroke-width="0.6"/>
<line x1="477.7" y1="539" x2="484.3" y2="539" stroke="#666" stroke-width="0.6"/>
<line x1="477.7" y1="542" x2="484.3" y2="542" stroke="#666" stroke-width="0.6"/>
<line x1="477.7" y1="545" x2="484.3" y2="545" stroke="#666" stroke-width="0.6"/>
<line x1="477.7" y1="548" x2="484.3" y2="548" stroke="#666" stroke-width="0.6"/>
<line x1="477.7" y1="551" x2="484.3" y2="551" stroke="#666" stroke-width="0.6"/>
<line x1="477.7" y1="554" x2="484.3" y2="554" stroke="#666" stroke-width="0.6"/>
<line x1="477.7" y1="557" x2="484.3" y2="557" stroke="#666" stroke-width="0.6"/>
<path d="M 479.7,541.3 Q 487.5,541 487,548 Q 486.5,553 479.7,552.5 Z" fill="#fff" stroke="#111" stroke-width="1.7" stroke-linejoin="round" stroke-linecap="round" />
<rect x="479" y="553" width="5" height="7" fill="#222"/>
<polygon points="467.2,514.3 487,510.3 494.2,515.9 475.1,519.5" fill="#fff" stroke="#111" stroke-width="1.8" stroke-linejoin="round" />
<polygon points="467.2,514.3 475.1,519.5 474.5,526 466.5,522.2" fill="#fff" stroke="#111" stroke-width="1.7" stroke-linejoin="round" />
<ellipse cx="481" cy="515" rx="7" ry="2.6" fill="#222"/>
<rect x="475.5" y="508.5" width="9" height="6.5" fill="#fff" stroke="#111" stroke-width="1.3"/>
<line x1="478.5" y1="509" x2="478.5" y2="515" stroke="#111" stroke-width="1.1"/>
<line x1="481.5" y1="509" x2="481.5" y2="515" stroke="#111" stroke-width="1.1"/>
<rect x="473.3" y="503.5" width="14.2" height="5.5" rx="2.7" fill="#fff" stroke="#111" stroke-width="1.5"/>
<path d="M 477.7,504 L 478.8,496.5 Q 482,494 486.5,496.5 L 487.3,504 Z" fill="#fff" stroke="#111" stroke-width="1.8" stroke-linejoin="round" stroke-linecap="round" />
<ellipse cx="481.5" cy="492.8" rx="4" ry="2.6" fill="#1a1a1a"/>
<path d="M 434.9,493.5 L 436.5,492.9 L 475.7,491.9 Q 478,492.5 477.7,494 L 477.7,503.7 L 446.7,499.1 L 446.1,501.4 L 441.5,499.8 L 439.5,497.8 L 435.2,496.1 Z" fill="#fff" stroke="#111" stroke-width="1.9" stroke-linejoin="round" stroke-linecap="round" />
<line x1="436.5" y1="494.2" x2="475.7" y2="494.6" stroke="#111" stroke-width="1.2"/>
</g>
<g transform="translate(406 -79.7)">
<polygon points="434.2,542.5 444.5,540 444.8,549.5 435,547.5" fill="#fff" stroke="#111" stroke-width="1.8" stroke-linejoin="round" />
<rect x="441.5" y="551" width="4" height="6" rx="1.5" fill="#222"/>
<rect x="477.7" y="518" width="6.6" height="42" fill="#1a1a1a"/>
<line x1="477.7" y1="521" x2="484.3" y2="521" stroke="#666" stroke-width="0.6"/>
<line x1="477.7" y1="524" x2="484.3" y2="524" stroke="#666" stroke-width="0.6"/>
<line x1="477.7" y1="527" x2="484.3" y2="527" stroke="#666" stroke-width="0.6"/>
<line x1="477.7" y1="530" x2="484.3" y2="530" stroke="#666" stroke-width="0.6"/>
<line x1="477.7" y1="533" x2="484.3" y2="533" stroke="#666" stroke-width="0.6"/>
<line x1="477.7" y1="536" x2="484.3" y2="536" stroke="#666" stroke-width="0.6"/>
<line x1="477.7" y1="539" x2="484.3" y2="539" stroke="#666" stroke-width="0.6"/>
<line x1="477.7" y1="542" x2="484.3" y2="542" stroke="#666" stroke-width="0.6"/>
<line x1="477.7" y1="545" x2="484.3" y2="545" stroke="#666" stroke-width="0.6"/>
<line x1="477.7" y1="548" x2="484.3" y2="548" stroke="#666" stroke-width="0.6"/>
<line x1="477.7" y1="551" x2="484.3" y2="551" stroke="#666" stroke-width="0.6"/>
<line x1="477.7" y1="554" x2="484.3" y2="554" stroke="#666" stroke-width="0.6"/>
<line x1="477.7" y1="557" x2="484.3" y2="557" stroke="#666" stroke-width="0.6"/>
<path d="M 479.7,541.3 Q 487.5,541 487,548 Q 486.5,553 479.7,552.5 Z" fill="#fff" stroke="#111" stroke-width="1.7" stroke-linejoin="round" stroke-linecap="round" />
<rect x="479" y="553" width="5" height="7" fill="#222"/>
<polygon points="467.2,514.3 487,510.3 494.2,515.9 475.1,519.5" fill="#fff" stroke="#111" stroke-width="1.8" stroke-linejoin="round" />
<polygon points="467.2,514.3 475.1,519.5 474.5,526 466.5,522.2" fill="#fff" stroke="#111" stroke-width="1.7" stroke-linejoin="round" />
<ellipse cx="481" cy="515" rx="7" ry="2.6" fill="#222"/>
<rect x="475.5" y="508.5" width="9" height="6.5" fill="#fff" stroke="#111" stroke-width="1.3"/>
<line x1="478.5" y1="509" x2="478.5" y2="515" stroke="#111" stroke-width="1.1"/>
<line x1="481.5" y1="509" x2="481.5" y2="515" stroke="#111" stroke-width="1.1"/>
<rect x="473.3" y="503.5" width="14.2" height="5.5" rx="2.7" fill="#fff" stroke="#111" stroke-width="1.5"/>
<path d="M 477.7,504 L 478.8,496.5 Q 482,494 486.5,496.5 L 487.3,504 Z" fill="#fff" stroke="#111" stroke-width="1.8" stroke-linejoin="round" stroke-linecap="round" />
<ellipse cx="481.5" cy="492.8" rx="4" ry="2.6" fill="#1a1a1a"/>
<path d="M 434.9,493.5 L 436.5,492.9 L 475.7,491.9 Q 478,492.5 477.7,494 L 477.7,503.7 L 446.7,499.1 L 446.1,501.4 L 441.5,499.8 L 439.5,497.8 L 435.2,496.1 Z" fill="#fff" stroke="#111" stroke-width="1.9" stroke-linejoin="round" stroke-linecap="round" />
<line x1="436.5" y1="494.2" x2="475.7" y2="494.6" stroke="#111" stroke-width="1.2"/>
</g>
<polygon points="441,755 445,754 445,768 441,766" fill="#fff" stroke="#111" stroke-width="1.6" stroke-linejoin="round" />
<polygon points="847.5,676 852,675 852,689 847.5,687" fill="#fff" stroke="#111" stroke-width="1.6" stroke-linejoin="round" />
<line x1="207.6" y1="403.5" x2="941.7" y2="258.5" stroke="#1d72a8" stroke-width="1.4"/>
<line x1="941.7" y1="252" x2="941.7" y2="417" stroke="#1d72a8" stroke-width="1.4"/>
<text x="502.4" y="334.6" transform="rotate(-11 502.4 334.6)" font-size="32" fill="#1a7dbb" textLength="121" lengthAdjust="spacingAndGlyphs">1134mm</text>
<line x1="174" y1="418.6" x2="174" y2="566.5" stroke="#1d72a8" stroke-width="1.4"/>
<line x1="193.9" y1="431.5" x2="193.9" y2="531" stroke="#1d72a8" stroke-width="1.4"/>
<line x1="194" y1="441" x2="281.2" y2="490.3" stroke="#1d72a8" stroke-width="1.4"/>
<line x1="281.2" y1="479.6" x2="281.2" y2="560" stroke="#111" stroke-width="1.3"/>
<text x="77.9" y="355" transform="rotate(30 77.9 355)" font-size="32" fill="#1a7dbb" textLength="338" lengthAdjust="spacingAndGlyphs">min143mm-max306mm</text>
<line x1="203.7" y1="499.5" x2="255.1" y2="529.2" stroke="#1d72a8" stroke-width="1.4"/>
<polygon points="203.7,499.5 215,502 211.5,508" fill="#1a7dbb" stroke="#1a7dbb" stroke-width="0.5" stroke-linejoin="round" />
<polygon points="255.1,529.2 243.8,526.7 247.3,520.7" fill="#1a7dbb" stroke="#1a7dbb" stroke-width="0.5" stroke-linejoin="round" />
<text x="196" y="486" transform="rotate(29 196 486)" font-size="32" fill="#1a7dbb" textLength="89" lengthAdjust="spacingAndGlyphs">18mm</text>
<line x1="627.4" y1="362" x2="627.4" y2="460" stroke="#1d72a8" stroke-width="1.4"/>
<polygon points="627.4,357 630.2,372 624.6,372" fill="#1a7dbb" stroke="#1a7dbb" stroke-width="0.5" stroke-linejoin="round" />
<polygon points="627.4,465.6 624.6,450.6 630.2,450.6" fill="#1a7dbb" stroke="#1a7dbb" stroke-width="0.5" stroke-linejoin="round" />
<text x="614.2" y="455" transform="rotate(-90 614.2 455)" font-size="32" fill="#1a7dbb" textLength="88.5" lengthAdjust="spacingAndGlyphs">28mm</text>
<line x1="464.3" y1="961.3" x2="871.2" y2="880.9" stroke="#1d72a8" stroke-width="1.4"/>
<line x1="464.3" y1="881" x2="464.3" y2="967" stroke="#1d72a8" stroke-width="1.4"/>
<line x1="871.2" y1="799" x2="871.2" y2="887" stroke="#1d72a8" stroke-width="1.4"/>
<text x="506.5" y="945.2" transform="rotate(-10.9 506.5 945.2)" font-size="32" fill="#1a7dbb" textLength="335.6" lengthAdjust="spacingAndGlyphs">min200mm-max800mm</text>
<line x1="870.4" y1="444.1" x2="1110" y2="397.2" stroke="#1d72a8" stroke-width="1.4"/>
<line x1="871.2" y1="452.4" x2="1064.6" y2="414.4" stroke="#1d72a8" stroke-width="1.4"/>
<line x1="1103.7" y1="397.5" x2="1103.7" y2="753.7" stroke="#1d72a8" stroke-width="1.4"/>
<line x1="1058.6" y1="414" x2="1058.6" y2="746" stroke="#1d72a8" stroke-width="1.4"/>
<line x1="868.6" y1="782.5" x2="1065.6" y2="745.4" stroke="#1d72a8" stroke-width="1.4"/>
<line x1="874" y1="797.5" x2="1109.5" y2="751.4" stroke="#1d72a8" stroke-width="1.4"/>
<text x="1069.5" y="414.6" transform="rotate(90 1069.5 414.6)" font-size="32" fill="#1a7dbb" textLength="339" lengthAdjust="spacingAndGlyphs">min200mm-max450mm</text>
<text x="1112" y="511.7" transform="rotate(90 1112 511.7)" font-size="32" fill="#1a7dbb" textLength="105" lengthAdjust="spacingAndGlyphs">483mm</text>
<text x="381" y="442" transform="rotate(0 381 442)" font-size="32" fill="#1a7dbb" textLength="43.5" lengthAdjust="spacingAndGlyphs">-5°</text>
<text x="446" y="469.6" transform="rotate(0 446 469.6)" font-size="32" fill="#1a7dbb" textLength="50.5" lengthAdjust="spacingAndGlyphs">+3°</text>
<text x="797" y="377.3" transform="rotate(0 797 377.3)" font-size="32" fill="#1a7dbb" textLength="41" lengthAdjust="spacingAndGlyphs">-3°</text>
<text x="863.5" y="360.5" transform="rotate(0 863.5 360.5)" font-size="32" fill="#1a7dbb" textLength="48" lengthAdjust="spacingAndGlyphs">+3°</text>
<path d="M 418,415 Q 452,393 480.7,432" fill="none" stroke="#1d72a8" stroke-width="1.4" stroke-linejoin="round" stroke-linecap="round" />
<polygon points="413.8,417.1 422.9,410 425.3,416.6" fill="#1a7dbb" stroke="#1a7dbb" stroke-width="0.5" stroke-linejoin="round" />
<polygon points="480.7,443 476.3,432.3 483.2,431.7" fill="#1a7dbb" stroke="#1a7dbb" stroke-width="0.5" stroke-linejoin="round" />
<path d="M 809,342 Q 845,290 880,327" fill="none" stroke="#1d72a8" stroke-width="1.4" stroke-linejoin="round" stroke-linecap="round" />
<polygon points="806.1,348.4 808.2,337 814.4,340.3" fill="#1a7dbb" stroke="#1a7dbb" stroke-width="0.5" stroke-linejoin="round" />
<polygon points="885.1,334 875.9,327 881.7,323" fill="#1a7dbb" stroke="#1a7dbb" stroke-width="0.5" stroke-linejoin="round" />
</svg></body></html>
